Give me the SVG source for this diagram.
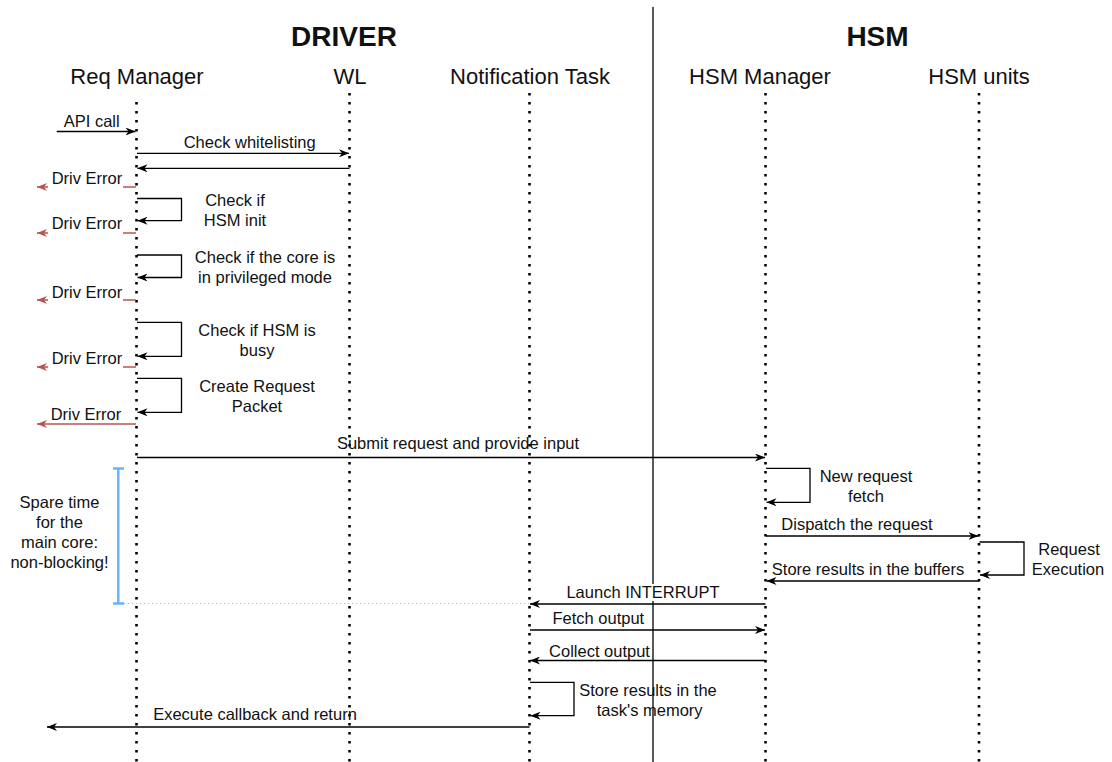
<svg xmlns="http://www.w3.org/2000/svg" width="1112" height="762" viewBox="0 0 1112 762">
  <defs>
    <marker id="arrow" viewBox="0 0 10 8" refX="10" refY="4" markerWidth="10" markerHeight="8" markerUnits="userSpaceOnUse" orient="auto">
      <path d="M0,0 L10,4 L0,8 L3,4 Z" fill="#000"/>
    </marker>
    <marker id="arrow-red" viewBox="0 0 10 8" refX="10" refY="4" markerWidth="10" markerHeight="8" markerUnits="userSpaceOnUse" orient="auto">
      <path d="M0,0 L10,4 L0,8 L3,4 Z" fill="#b85450"/>
    </marker>
    <style>
      text { font-family: "Liberation Sans", Arial, Helvetica, sans-serif; fill: #111; text-anchor: middle; }
      .title { font-size: 28px; font-weight: bold; }
      .actor { font-size: 22px; }
      .lbl { font-size: 16.5px; }
      .lifeline { stroke: #000; stroke-width: 2.6; stroke-dasharray: 2.6 6.4; fill: none; }
      .msg { stroke: #000; stroke-width: 1.3; fill: none; marker-end: url(#arrow); }
      .err { stroke: #b85450; stroke-width: 1.3; fill: none; marker-end: url(#arrow-red); }
      .bg { fill: #fff; }
    </style>
  </defs>

  <rect width="1112" height="762" fill="#fff"/>

  <!-- divider between driver side and HSM side -->
  <line x1="653" y1="7" x2="653" y2="762" stroke="#000" stroke-width="1.3"/>

  <!-- section titles -->
  <text class="title" x="344" y="46">DRIVER</text>
  <text class="title" x="877.5" y="46">HSM</text>

  <!-- lifelines -->
  <g id="req-manager">
    <text class="actor" x="137" y="84">Req Manager</text>
    <line class="lifeline" x1="136.5" y1="102" x2="136.5" y2="762"/>
  </g>
  <g id="wl">
    <text class="actor" x="350" y="84">WL</text>
    <line class="lifeline" x1="349.5" y1="93" x2="349.5" y2="762"/>
  </g>
  <g id="notification-task">
    <text class="actor" x="530" y="84">Notification Task</text>
    <line class="lifeline" x1="529.5" y1="93" x2="529.5" y2="762"/>
  </g>
  <g id="hsm-manager">
    <text class="actor" x="760" y="84">HSM Manager</text>
    <line class="lifeline" x1="765.5" y1="93" x2="765.5" y2="762"/>
  </g>
  <g id="hsm-units">
    <text class="actor" x="979" y="84">HSM units</text>
    <line class="lifeline" x1="979" y1="93" x2="979" y2="762"/>
  </g>

  <!-- spare time bracket -->
  <g id="spare-time">
    <line x1="124" y1="603.5" x2="529" y2="603.5" stroke="#9cc3ec" stroke-width="1" stroke-dasharray="1.2 2.8"/>
    <path d="M118.3,468.5 V603.5 M113,468.5 H124 M113,603.5 H124" stroke="#66b2ff" stroke-width="2.4" fill="none"/>
    <text class="lbl" x="59.5" y="507.5">Spare time</text>
    <text class="lbl" x="59.5" y="527.5">for the</text>
    <text class="lbl" x="59.5" y="547.5">main core:</text>
    <text class="lbl" x="59.5" y="567.5">non-blocking!</text>
  </g>

  <!-- messages -->
  <g id="connectors">
    <path class="msg" d="M56.7,131.5 H135.5"/>
    <path class="msg" d="M137,153.3 H349"/>
    <path class="msg" d="M349.5,168.3 H137.5"/>

    <path class="err" d="M136,187 H37"/>
    <path class="msg" d="M137,198.5 H181.5 V220.7 H137.5"/>
    <path class="err" d="M136,233 H37"/>
    <path class="msg" d="M137,255 H181.5 V277.5 H137.5"/>
    <path class="err" d="M136,300 H37"/>
    <path class="msg" d="M137,322.3 H181.5 V356.3 H137.5"/>
    <path class="err" d="M136,367 H37"/>
    <path class="msg" d="M137,378.3 H181.5 V412.3 H137.5"/>
    <path class="err" d="M136,424 H37"/>

    <path class="msg" d="M137,457.5 H765"/>
    <path class="msg" d="M766,468.3 H810 V502.3 H766.5"/>
    <path class="msg" d="M766,536 H978.5"/>
    <path class="msg" d="M979.5,542 H1024 V575 H980"/>
    <path class="msg" d="M979,581 H766.5"/>
    <path class="msg" d="M765.5,604 H530"/>
    <path class="msg" d="M530,630 H765"/>
    <path class="msg" d="M765.5,660.5 H530"/>
    <path class="msg" d="M530,682.3 H574 V715.7 H530.5"/>
    <path class="msg" d="M529.5,727 H47"/>
  </g>

  <!-- message labels -->
  <g id="labels">
    <text class="lbl" x="91.7" y="126.5">API call</text>
    <text class="lbl" x="249.7" y="147.5">Check whitelisting</text>

    <rect class="bg" x="48" y="169" width="75" height="20"/>
    <text class="lbl" x="87" y="184.2">Driv Error</text>
    <text class="lbl" x="235" y="206">Check if</text>
    <text class="lbl" x="235" y="226">HSM init</text>

    <rect class="bg" x="48" y="214" width="75" height="20"/>
    <text class="lbl" x="87" y="229.2">Driv Error</text>
    <text class="lbl" x="265" y="262.7">Check if the core is</text>
    <text class="lbl" x="265" y="282.7">in privileged mode</text>

    <rect class="bg" x="48" y="282" width="75" height="20"/>
    <text class="lbl" x="87" y="297.6">Driv Error</text>
    <text class="lbl" x="257" y="336">Check if HSM is</text>
    <text class="lbl" x="257" y="356">busy</text>

    <rect class="bg" x="48" y="349" width="75" height="20"/>
    <text class="lbl" x="87" y="364.2">Driv Error</text>
    <text class="lbl" x="257" y="392">Create Request</text>
    <text class="lbl" x="257" y="411.7">Packet</text>

    <text class="lbl" x="86" y="420">Driv Error</text>

    <text class="lbl" x="458" y="449">Submit request and provide input</text>
    <text class="lbl" x="866" y="482">New request</text>
    <text class="lbl" x="866" y="502">fetch</text>
    <text class="lbl" x="857" y="530">Dispatch the request</text>
    <text class="lbl" x="1069" y="555">Request</text>
    <text class="lbl" x="1068" y="575">Execution</text>
    <text class="lbl" x="868" y="575">Store results in the buffers</text>
    <rect class="bg" x="646" y="584" width="14" height="17"/>
    <text class="lbl" x="643" y="598">Launch INTERRUPT</text>
    <text class="lbl" x="598.3" y="624.3">Fetch output</text>
    <text class="lbl" x="599.5" y="656.7">Collect output</text>
    <text class="lbl" x="648" y="696">Store results in the</text>
    <text class="lbl" x="649.7" y="716">task's memory</text>
    <text class="lbl" x="255" y="720">Execute callback and return</text>
  </g>
</svg>
